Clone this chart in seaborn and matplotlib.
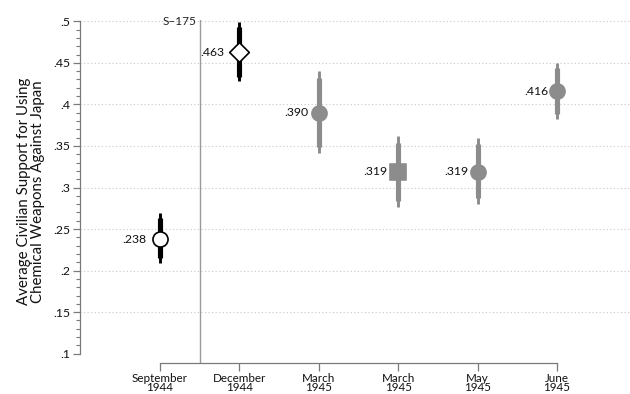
import matplotlib
matplotlib.use("Agg")
import matplotlib.pyplot as plt
from matplotlib.ticker import FixedLocator, FuncFormatter
import numpy as np
import pandas as pd
import seaborn as sns

# Survey waves and estimated mean support with 90% / 95% intervals
waves = ["September\n1944", "December\n1944", "March\n1945",
         "March\n1945", "May\n1945", "June\n1945"]
means = [0.238, 0.463, 0.390, 0.319, 0.319, 0.416]
ci95_lo = [0.209, 0.428, 0.341, 0.277, 0.280, 0.383]
ci95_hi = [0.269, 0.499, 0.440, 0.362, 0.359, 0.450]
ci90_lo = [0.215, 0.433, 0.349, 0.284, 0.287, 0.389]
ci90_hi = [0.263, 0.493, 0.432, 0.354, 0.352, 0.444]
value_labels = [".238", ".463", ".390", ".319", ".319", ".416"]
y_ticks = [0.1, 0.15, 0.2, 0.25, 0.3, 0.35, 0.4, 0.45, 0.5]
y_tick_labels = [".1", ".15", ".2", ".25", ".3", ".35", ".4", ".45", ".5"]
event_label = "S\u2013175"

sns.set_theme(style="white")
plt.rcParams["font.family"] = ["Lato", "DejaVu Sans"]

BLACK = "#000000"
GRAY = "#8c8c8c"
AXIS = "#7a7a7a"

df = pd.DataFrame({
    "pos": np.arange(1, len(waves) + 1),
    "wave": waves,
    "mean": means,
    "lo95": ci95_lo, "hi95": ci95_hi,
    "lo90": ci90_lo, "hi90": ci90_hi,
    "label": value_labels,
    "marker": ["o", "D", "o", "s", "o", "o"],
    "size": [118, 100, 118, 120, 118, 118],
    "face": ["white", "white", GRAY, GRAY, GRAY, GRAY],
    "edge": [BLACK, BLACK, GRAY, GRAY, GRAY, GRAY],
    "bar": [BLACK, BLACK, GRAY, GRAY, GRAY, GRAY],
    "loff": [-14, -15, -10, -11, -9, -9],
})

W, H = 630, 394
fig = plt.figure(figsize=(W / 100, H / 100), dpi=100)
ax = fig.add_axes([80 / W, (H - 363) / H, 1 - 80 / W, (363 - 20) / H])

# dotted horizontal grid
for yv in y_ticks[1:]:
    ax.axhline(yv, color="#c8c8c8", lw=0.8, ls=(0, (1, 2.2)), zorder=0)

# divider marking the S-175 event
ax.axvline(1.5, color="#9a9a9a", lw=1.0, zorder=1)
ax.text(1.455, 0.5, event_label, ha="right", va="center", fontsize=8.6,
        color="#222222")

# confidence intervals: thin 95%, thick 90%
ax.vlines(df["pos"], df["lo95"], df["hi95"], colors=df["bar"], lw=2.1,
          capstyle="butt", zorder=2)
ax.vlines(df["pos"], df["lo90"], df["hi90"], colors=df["bar"], lw=3.7,
          capstyle="butt", zorder=3)

# point estimates
for _, r in df.iterrows():
    sns.scatterplot(x=[r["pos"]], y=[r["mean"]], marker=r["marker"],
                    s=r["size"], color=r["face"], edgecolor=r["edge"],
                    linewidth=1.2, ax=ax, zorder=4, legend=False)
    ax.annotate(r["label"], (r["pos"], r["mean"]),
                xytext=(r["loff"] * 0.72, 0), textcoords="offset points",
                ha="right", va="center", fontsize=8.8, color="#111111")

ax.set_xlim(-0.008, 6.92)
ax.set_ylim(0.0888, 0.5016)

ax.set_xticks(df["pos"])
ax.set_xticklabels(waves, fontsize=8.4, linespacing=0.85)
ax.yaxis.set_major_locator(FixedLocator(y_ticks))
ax.yaxis.set_major_formatter(FuncFormatter(
    lambda v, p: y_tick_labels[int(round((v - 0.1) / 0.05))]))
ax.yaxis.set_minor_locator(FixedLocator(np.round(np.arange(0.1, 0.5001, 0.01), 2)))
ax.tick_params(axis="y", which="both", left=True)
ax.tick_params(axis="y", which="major", length=5, width=0.9, color=AXIS,
               labelsize=8.8, pad=2)
ax.tick_params(axis="y", which="minor", length=3, width=0.8, color=AXIS)
ax.tick_params(axis="x", which="major", length=5.5, width=0.9, color=AXIS,
               pad=1.5, bottom=True)
ax.tick_params(axis="both", labelcolor="#111111")

for side in ["top", "right"]:
    ax.spines[side].set_visible(False)
ax.spines["left"].set_bounds(0.1, 0.5)
ax.spines["bottom"].set_bounds(1, 6)
for side in ["left", "bottom"]:
    ax.spines[side].set_color(AXIS)
    ax.spines[side].set_linewidth(0.9)

ax.set_ylabel("Average Civilian Support for Using\nChemical Weapons Against Japan",
              fontsize=10.8, linespacing=1.0, labelpad=6, color="#111111")

fig.savefig("out.png", dpi=100)
